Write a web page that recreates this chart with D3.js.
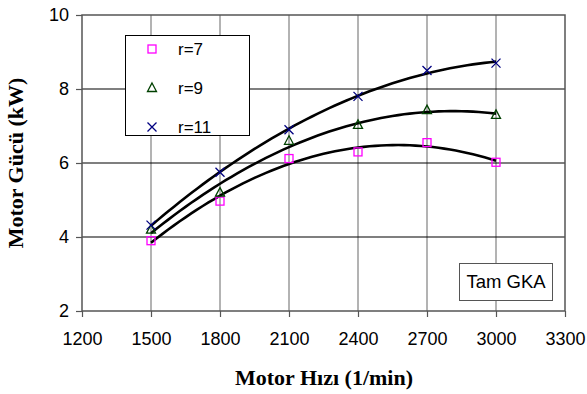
<!DOCTYPE html>
<html>
  <head>
    <meta http-equiv="Content-Type" content="text/html; charset=utf-8" />
    <style>
    body { margin: 0; background: #fff; }
    .tick text { font-family: Arial, "Liberation Sans", sans-serif; font-size: 18px; fill: #000; }
    .axis-title { font-family: "Times New Roman", "Liberation Serif", serif; font-weight: bold; font-size: 22px; }
    </style>
  </head>
  <body>
    <div id="chart"></div>
    <script src="https://d3js.org/d3.v7.min.js"></script>
    <script>

var speeds = [1500, 1800, 2100, 2400, 2700, 3000];
var r7  = [3.9, 4.97, 6.12, 6.3, 6.55, 6.02];
var r9  = [4.2, 5.2, 6.6, 7.03, 7.43, 7.3];
var r11 = [4.32, 5.75, 6.9, 7.8, 8.5, 8.7];
var seriesNames = ["r=7", "r=9", "r=11"];
var xTicks = [1200, 1500, 1800, 2100, 2400, 2700, 3000, 3300];
var yTicks = [2, 4, 6, 8, 10];

var series = [
  {name: seriesNames[0], values: r7,  color: "#ff00ff", symbol: "square"},
  {name: seriesNames[1], values: r9,  color: "#004000", symbol: "triangle"},
  {name: seriesNames[2], values: r11, color: "#000080", symbol: "cross"}
];

var width = 587, height = 394;
var margin = {left: 82, right: 22, top: 15, bottom: 83};

var svg = d3.select("#chart").append("svg")
    .attr("width", width)
    .attr("height", height);

var x = d3.scaleLinear().domain([1200, 3300]).range([margin.left, width - margin.right]);
var y = d3.scaleLinear().domain([2, 10]).range([height - margin.bottom, margin.top]);

// grid
svg.append("g").selectAll("line")
  .data(xTicks.slice(1, -1))
  .join("line")
    .attr("x1", d => x(d)).attr("x2", d => x(d))
    .attr("y1", y(10)).attr("y2", y(2))
    .attr("stroke", "#808080").attr("stroke-width", 1.2);

svg.append("g").selectAll("line")
  .data(yTicks.slice(1, -1))
  .join("line")
    .attr("x1", x(1200)).attr("x2", x(3300))
    .attr("y1", d => y(d)).attr("y2", d => y(d))
    .attr("stroke", "#000").attr("stroke-width", 1.2);

svg.append("rect")
  .attr("x", x(1200)).attr("y", y(10))
  .attr("width", x(3300) - x(1200)).attr("height", y(2) - y(10))
  .attr("fill", "none").attr("stroke", "#555").attr("stroke-width", 1.5);

// axes
var xAxis = svg.append("g")
  .attr("transform", "translate(0," + y(2) + ")")
  .call(d3.axisBottom(x).tickValues(xTicks).tickSize(6).tickPadding(15).tickFormat(d3.format("d")));
xAxis.select(".domain").remove();
xAxis.selectAll(".tick line").attr("stroke", "#555").attr("stroke-width", 1.2);

var yAxis = svg.append("g")
  .attr("transform", "translate(" + x(1200) + ",0)")
  .call(d3.axisLeft(y).tickValues(yTicks).tickSize(6).tickPadding(7).tickFormat(d3.format("d")));
yAxis.select(".domain").remove();
yAxis.selectAll(".tick line").attr("stroke", "#555").attr("stroke-width", 1.2);

// quadratic least-squares trendline
function quadFit(xs, ys) {
  var s = [0, 0, 0, 0, 0], t = [0, 0, 0];
  xs.forEach(function(xv, i) {
    var u = (xv - 2250) / 1000;
    for (var k = 0; k < 5; k++) s[k] += Math.pow(u, k);
    for (var k = 0; k < 3; k++) t[k] += ys[i] * Math.pow(u, k);
  });
  var A = [[s[0], s[1], s[2], t[0]], [s[1], s[2], s[3], t[1]], [s[2], s[3], s[4], t[2]]];
  for (var i = 0; i < 3; i++) {
    for (var j = i + 1; j < 3; j++) {
      var f = A[j][i] / A[i][i];
      for (var k = i; k < 4; k++) A[j][k] -= f * A[i][k];
    }
  }
  var c = [0, 0, 0];
  for (var i = 2; i >= 0; i--) {
    var v = A[i][3];
    for (var k = i + 1; k < 3; k++) v -= A[i][k] * c[k];
    c[i] = v / A[i][i];
  }
  return function(xv) { var u = (xv - 2250) / 1000; return c[0] + c[1] * u + c[2] * u * u; };
}

var line = d3.line().x(d => x(d[0])).y(d => y(d[1]));

series.forEach(function(s) {
  var f = quadFit(speeds, s.values);
  var pts = d3.range(1500, 3001, 25).map(v => [v, f(v)]);
  svg.append("path")
    .datum(pts)
    .attr("d", line)
    .attr("fill", "none")
    .attr("stroke", "#000")
    .attr("stroke-width", 2.6);
});

function drawMarker(g, symbol, color, cx, cy) {
  if (symbol === "square") {
    g.append("rect").attr("x", cx - 4).attr("y", cy - 4).attr("width", 8).attr("height", 8)
      .attr("fill", "none").attr("stroke", color).attr("stroke-width", 1.3);
  } else if (symbol === "triangle") {
    g.append("path").attr("d", "M" + cx + "," + (cy - 5) + "L" + (cx + 4.5) + "," + (cy + 3.5) + "L" + (cx - 4.5) + "," + (cy + 3.5) + "Z")
      .attr("fill", "none").attr("stroke", color).attr("stroke-width", 1.3);
  } else {
    g.append("path").attr("d", "M" + (cx - 4.5) + "," + (cy - 4.5) + "L" + (cx + 4.5) + "," + (cy + 4.5) + "M" + (cx + 4.5) + "," + (cy - 4.5) + "L" + (cx - 4.5) + "," + (cy + 4.5))
      .attr("fill", "none").attr("stroke", color).attr("stroke-width", 1.3);
  }
}

series.forEach(function(s) {
  var g = svg.append("g");
  s.values.forEach(function(v, i) {
    drawMarker(g, s.symbol, s.color, x(speeds[i]), y(v));
  });
});

// legend
var leg = svg.append("g");
leg.append("rect").attr("x", 125.5).attr("y", 35.5).attr("width", 124).attr("height", 100)
  .attr("fill", "#fff").attr("stroke", "#000").attr("stroke-width", 1);
series.forEach(function(s, i) {
  var cy = 49 + i * 39;
  drawMarker(leg, s.symbol, s.color, 152, cy);
  leg.append("text").attr("x", 178).attr("y", cy + 6)
    .style("font-family", "Arial, 'Liberation Sans', sans-serif").style("font-size", "17px")
    .text(s.name);
});

// annotation box
svg.append("rect").attr("x", 459.5).attr("y", 263.5).attr("width", 93).attr("height", 37)
  .attr("fill", "#fff").attr("stroke", "#555").attr("stroke-width", 1);
svg.append("text").attr("x", 506).attr("y", 288).attr("text-anchor", "middle")
  .style("font-family", "Arial, 'Liberation Sans', sans-serif").style("font-size", "18.5px")
  .text("Tam GKA");

// axis titles
svg.append("text").attr("class", "axis-title")
  .attr("x", 324).attr("y", 385).attr("text-anchor", "middle")
  .text("Motor Hızı (1/min)");
svg.append("text").attr("class", "axis-title")
  .attr("transform", "translate(23," + ((y(2) + y(10)) / 2) + ") rotate(-90)")
  .attr("text-anchor", "middle")
  .text("Motor Gücü (kW)");

    </script>
  </body>
</html>
